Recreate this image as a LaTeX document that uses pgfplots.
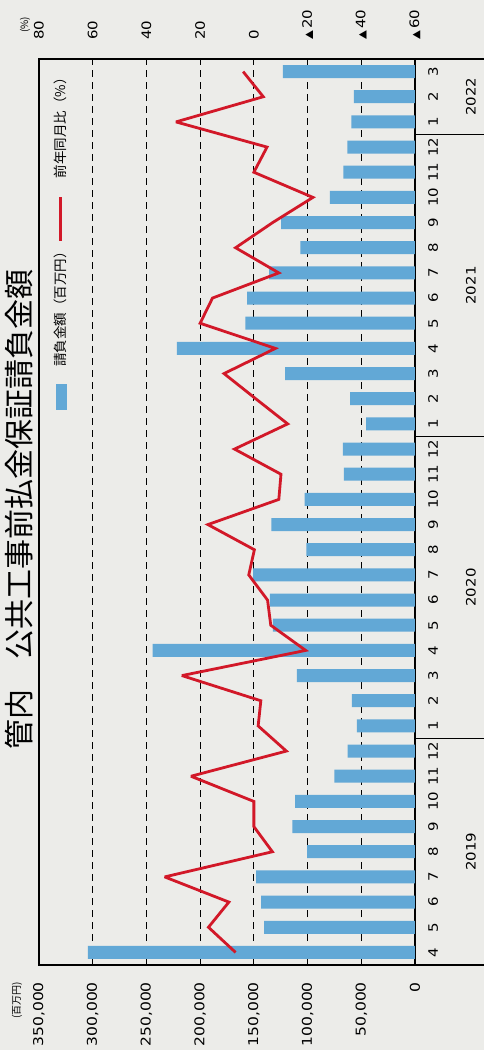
\documentclass[border=0pt]{standalone}
\usepackage{graphicx}
\usepackage{pgfplots}
\usepackage{pgfplotstable}
\pgfplotsset{compat=1.18}
\usepackage{fontspec}
\setmainfont{Noto Sans CJK JP}
\newfontfamily\numfam{DejaVu Sans}[FakeStretch=1.15]

\definecolor{paper}{RGB}{236,236,233}
\definecolor{barblue}{RGB}{98,168,214}
\definecolor{linered}{RGB}{210,24,40}

\newcommand\tickfont{\numfam\fontsize{13.5}{15}\selectfont}
\newcommand\monthfont{\numfam\fontsize{13}{15}\selectfont}
\newcommand\tri{{\fontsize{10}{10}\selectfont ▲}\,}

% 2019/4 = 0 ... 2022/3 = 35
\pgfplotstableread{
idx amount
0  304600
1  140400
2  143200
3  147800
4  100300
5  114200
6  111700
7  75000
8  62800
9  54100
10 58800
11 110000
12 244300
13 132300
14 135000
15 150600
16 101100
17 133600
18 102700
19 66200
20 67100
21 45500
22 60500
23 121000
24 221600
25 158000
26 156200
27 135800
28 106800
29 124700
30 79300
31 66700
32 63000
33 59300
34 56800
35 123100
}\amounttable

\pgfplotstableread{
idx yoy
0  6.8
1  16.9
2  9.3
3  33.2
4  -6.9
5  0
6  0
7  23.4
8  -12.1
9  -1.6
10 -2.6
11 26.8
12 -19.3
13 -6.3
14 -5.1
15 1.9
16 -0.2
17 17.1
18 -9.3
19 -10.1
20 7.2
21 -12.6
22 -0.7
23 11.1
24 -8
25 20
26 15.4
27 -9.3
28 6.8
29 -7
30 -22
31 0
32 -4.9
33 29
34 -3.5
35 4
}\yoytable

\begin{document}
\rotatebox{90}{%
\begin{tikzpicture}
\useasboundingbox (0,0) rectangle (1050pt,484pt);
\fill[paper] (0,0) rectangle (1050pt,484pt);
\node[font=\fontsize{30}{32}\selectfont] at (540pt,465pt) {管内　公共工事前払金保証請負金額};

\begin{axis}[
    at={(85pt,69pt)}, anchor=south west,
    scale only axis, width=906pt, height=376pt,
    xmin=-0.5, xmax=35.5,
    ymin=0, ymax=350000,
    clip=false,
    axis line style={line width=1.3pt},
    ybar, bar width=13pt, bar shift=0pt,
    major tick length=0pt,
    xtick={0,...,35},
    xticklabels={4,5,6,7,8,9,10,11,12,1,2,3,4,5,6,7,8,9,10,11,12,1,2,3,4,5,6,7,8,9,10,11,12,1,2,3},
    xticklabel style={font=\monthfont, anchor=base, yshift=-23pt, inner sep=0pt},
    ytick={0,50000,...,350000},
    scaled y ticks=false,
    yticklabel style={font=\tickfont, anchor=east, xshift=-17pt, inner sep=0pt,
        /pgf/number format/fixed, /pgf/number format/precision=0,
        /pgf/number format/1000 sep={,},
        /pgf/number format/assume math mode=true},
    ymajorgrids,
    major grid style={black, line width=1.2pt, dash pattern=on 7pt off 5pt},
]
\addplot[fill=barblue, draw=none] table[x=idx, y=amount] {\amounttable};

% frame lines below the axis and year separators
\draw[line width=1.3pt] (rel axis cs:0,0) -- ++(0pt,-75pt);
\draw[line width=1.3pt] (rel axis cs:1,0) -- ++(0pt,-75pt);
\draw[line width=1.3pt] (axis cs:8.5,0) -- ++(0pt,-75pt);
\draw[line width=1.3pt] (axis cs:20.5,0) -- ++(0pt,-75pt);
\draw[line width=1.3pt] (axis cs:32.5,0) -- ++(0pt,-75pt);

\node[font=\monthfont] at (axis cs:4,0) [yshift=-56pt] {2019};
\node[font=\monthfont] at (axis cs:14.5,0) [yshift=-56pt] {2020};
\node[font=\monthfont] at (axis cs:26.5,0) [yshift=-56pt] {2021};
\node[font=\monthfont] at (axis cs:34,0) [yshift=-56pt] {2022};

\node[anchor=east, inner sep=0pt, font=\fontsize{10}{11}\selectfont] at (rel axis cs:0,1) [xshift=-17pt, yshift=22pt] {(百万円)};
\node[anchor=west, inner sep=0pt, font=\fontsize{10}{11}\selectfont] at (rel axis cs:1,1) [xshift=26pt, yshift=14pt] {(\%)};
\end{axis}

\begin{axis}[
    at={(85pt,69pt)}, anchor=south west,
    scale only axis, width=906pt, height=376pt,
    xmin=-0.5, xmax=35.5,
    ymin=-60, ymax=80,
    axis x line=none,
    axis y line*=right,
    axis line style={line width=1.3pt},
    major tick length=0pt,
    ytick={-60,-40,-20,0,20,40,60,80},
    yticklabels={\tri 60,\tri 40,\tri 20,0,20,40,60,80},
    yticklabel style={font=\monthfont, anchor=west, xshift=19pt, inner sep=0pt},
    legend columns=2,
    legend style={draw=none, fill=none, at={(1,1)}, anchor=north east,
        xshift=-9pt, yshift=-12pt, inner sep=0pt,
        font=\fontsize{13.5}{15}\selectfont,
        nodes={inner sep=3pt},
        /tikz/every even column/.append style={column sep=0pt},
        /tikz/every odd column/.append style={column sep=14pt}},
]
\addlegendimage{legend image code/.code={\fill[barblue] (0pt,-5pt) rectangle (25pt,5pt);}}
\addlegendentry{請負金額（百万円）}
\addplot[color=linered, line width=2.8pt, line join=miter, miter limit=3,
    legend image code/.code={\draw[color=linered, line width=3pt] (0pt,0pt) -- (44pt,0pt);}]
    table[x=idx, y=yoy] {\yoytable};
\addlegendentry{前年同月比（\%）}
\end{axis}
\end{tikzpicture}}
\end{document}
